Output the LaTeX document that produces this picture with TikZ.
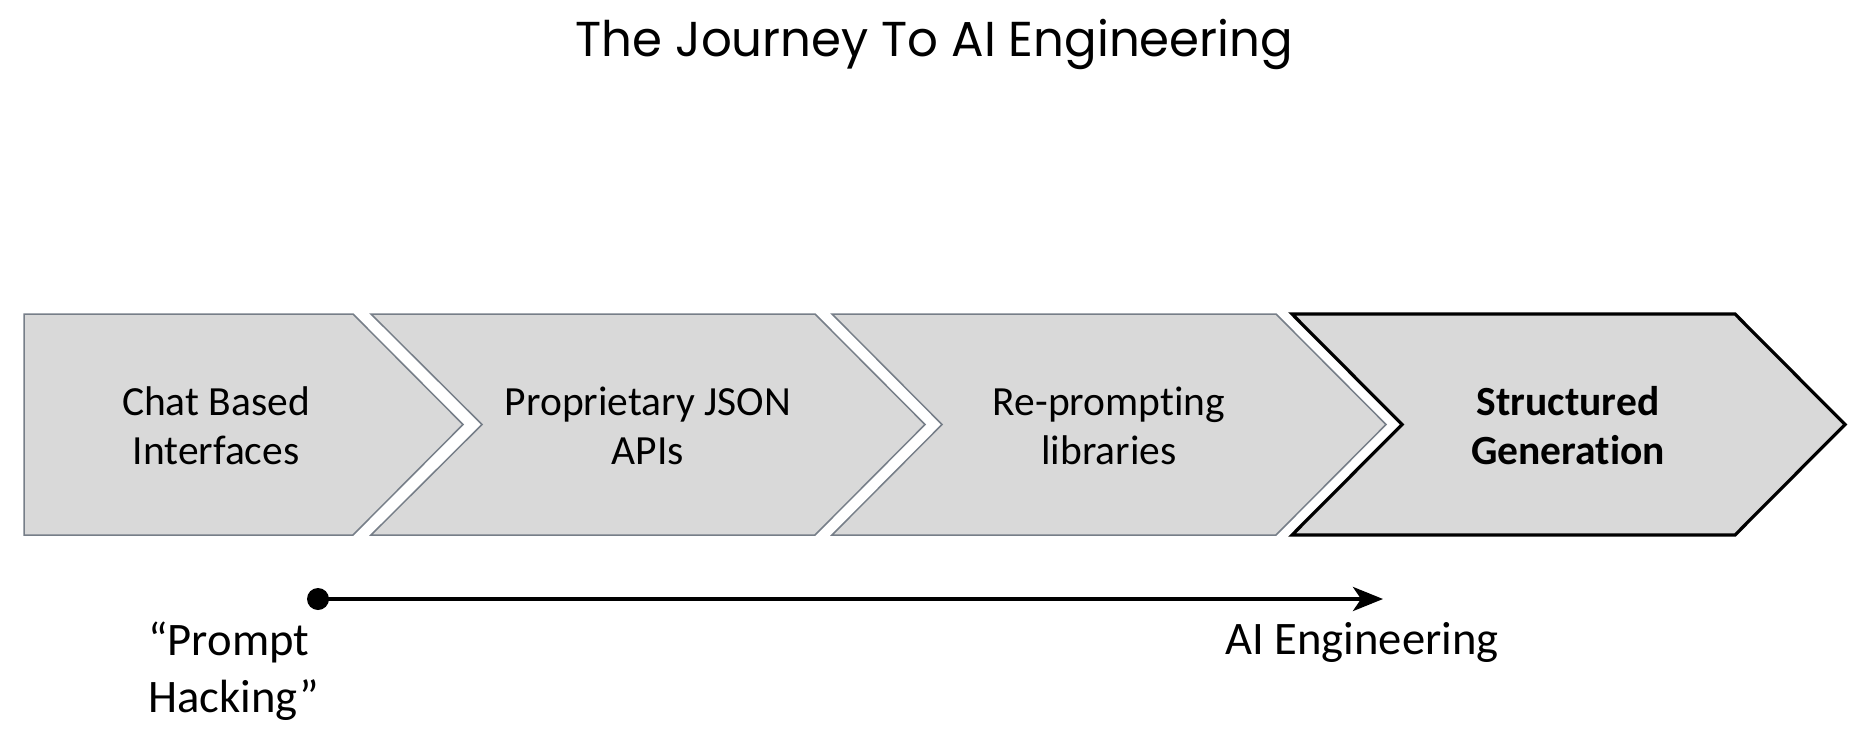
\documentclass[tikz,border=0pt]{standalone}
\usepackage{fontspec}
\setmainfont[Ligatures=NoCommon]{Carlito}
\newfontfamily\titlefont[FakeStretch=0.985]{Poppins}
\usetikzlibrary{arrows.meta}
\definecolor{chevfill}{RGB}{217,217,217}
\definecolor{chevline}{RGB}{118,126,136}
\begin{document}
\begin{tikzpicture}[x=0.5pt,y=-0.5pt,
  chevbox/.style={fill=chevfill,draw=chevline,line width=0.75pt,line join=miter},
  chevbold/.style={fill=chevfill,draw=black,line width=1.6pt,line join=miter},
  chevtext/.style={font=\fontsize{20.75pt}{24.5pt}\selectfont,align=center,inner sep=0pt,anchor=base},
  labeltext/.style={font=\fontsize{23.3pt}{28.5pt}\selectfont,inner sep=0pt,anchor=base west,align=left},
  titletext/.style={font=\titlefont\fontsize{24.5pt}{29pt}\selectfont,inner sep=0pt,anchor=base}]
\useasboundingbox (0,0) rectangle (1855,743);
% title
\node[titletext] (title) at (934.5,57) {The Journey To AI Engineering};
% chevrons
\draw[chevbox] (24,314) -- (353,314) -- (463,424.5) -- (353,535) -- (24,535) -- cycle;
\draw[chevbox] (371,314) -- (815,314) -- (925,424.5) -- (815,535) -- (371,535) -- (482,424.5) -- cycle;
\draw[chevbox] (832,314) -- (1276,314) -- (1386,424.5) -- (1276,535) -- (832,535) -- (942,424.5) -- cycle;
\draw[chevbold] (1292,314) -- (1735,314) -- (1845,424.5) -- (1735,535) -- (1292,535) -- (1402,424.5) -- cycle;
% chevron texts (anchored at baseline of last line)
\node[chevtext] (c1) at (216,464) {Chat Based\\Interfaces};
\node[chevtext] (c2) at (648,464) {Proprietary JSON\\APIs};
\node[chevtext] (c3) at (1109,464) {Re-prompting\\libraries};
\node[chevtext] (c4) at (1568,464) {\bfseries Structured\\\bfseries Generation};
% timeline
\node[circle,fill=black,inner sep=0pt,minimum size=11pt] (start) at (318,599) {};
\coordinate (finish) at (1383,599);
\draw[line width=2pt,-{Stealth[length=15pt,width=12pt,inset=4pt]}] (start.center) -- (finish);
\node[labeltext] (ph) at (148,712) {“Prompt\\Hacking”};
\node[labeltext] (ai) at (1225,654) {AI Engineering};
\end{tikzpicture}
\end{document}
